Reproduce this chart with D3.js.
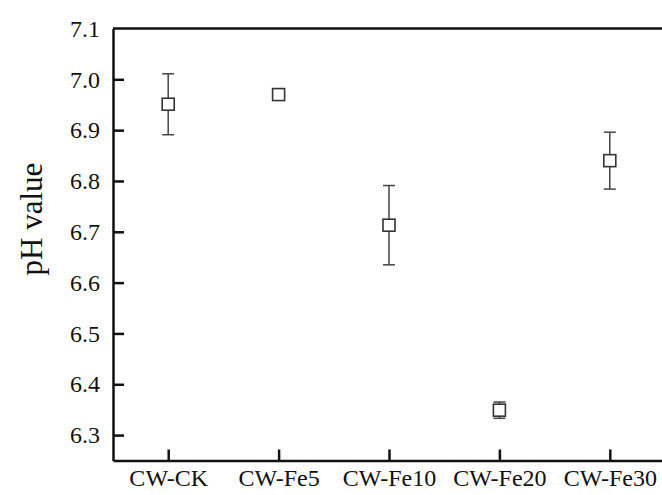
<!DOCTYPE html>
<html>
<head>
<meta charset="utf-8">
<script src="https://cdn.jsdelivr.net/npm/d3@7"></script>
<style>
	body { margin: 0; background: #fff; }
	svg { display: block; }
</style>
</head>
<body>
<svg id="chart" width="662" height="495"></svg>
<script>
// treatments and measured pH (mean, standard deviation)
var groups = ['CW-CK', 'CW-Fe5', 'CW-Fe10', 'CW-Fe20', 'CW-Fe30'];
var phMean = [6.951, 6.970, 6.713, 6.349, 6.840];
var phErr  = [0.060, 0.005, 0.078, 0.016, 0.056];
var yTicks = [6.3, 6.4, 6.5, 6.6, 6.7, 6.8, 6.9, 7.0, 7.1];

var width = 662, height = 495;
var margin = {top: 28.5, right: -3, bottom: 34.5, left: 113};
var serif = "'Liberation Serif', 'Times New Roman', Times, serif";

var svg = d3.select('#chart');

var x = d3.scalePoint()
	.domain(groups)
	.range([margin.left, width - margin.right])
	.padding(0.5);

var y = d3.scaleLinear()
	.domain([6.25, 7.1])
	.range([height - margin.bottom, margin.top]);

var data = groups.map(function(g, i){
	return {g: g, m: phMean[i], e: phErr[i]};
});

function styleAxis(g){
	g.selectAll('text')
		.style('font-family', serif)
		.style('font-size', '24px')
		.style('fill', '#111');
	g.selectAll('path, line').attr('stroke', '#111').attr('stroke-width', 2.5);
}

// top frame line
svg.append('line')
	.attr('x1', margin.left).attr('x2', width)
	.attr('y1', y(7.1)).attr('y2', y(7.1))
	.attr('stroke', '#111').attr('stroke-width', 2.5);

svg.append('g')
	.attr('transform', 'translate(' + margin.left + ',0)')
	.call(d3.axisLeft(y).tickValues(yTicks).tickFormat(d3.format('.1f')).tickSizeInner(-11).tickSizeOuter(0).tickPadding(13))
	.call(styleAxis)
	.selectAll('.tick line').filter(function(d){ return d === 7.1; }).remove();

svg.append('g')
	.attr('transform', 'translate(0,' + y(6.25) + ')')
	.call(d3.axisBottom(x).tickSizeInner(-11).tickSizeOuter(0).tickPadding(8))
	.call(styleAxis);

svg.append('text')
	.attr('transform', 'translate(42,219) rotate(-90)')
	.attr('text-anchor', 'middle')
	.style('font-family', serif)
	.style('font-size', '31px')
	.style('fill', '#111')
	.text('pH value');

var pts = svg.append('g').attr('class', 'points');

var bars = pts.selectAll('g.err').data(data).enter().append('g')
	.attr('class', 'err')
	.attr('stroke', '#444')
	.attr('stroke-width', 1.5)
	.attr('fill', 'none');

bars.append('line')
	.attr('x1', function(d){ return x(d.g); })
	.attr('x2', function(d){ return x(d.g); })
	.attr('y1', function(d){ return y(d.m + d.e); })
	.attr('y2', function(d){ return y(d.m - d.e); });

[1, -1].forEach(function(s){
	bars.append('line')
		.attr('x1', function(d){ return x(d.g) - 6; })
		.attr('x2', function(d){ return x(d.g) + 6; })
		.attr('y1', function(d){ return y(d.m + s * d.e); })
		.attr('y2', function(d){ return y(d.m + s * d.e); });
});

pts.selectAll('rect').data(data).enter().append('rect')
	.attr('x', function(d){ return x(d.g) - 6; })
	.attr('y', function(d){ return y(d.m) - 6; })
	.attr('width', 12)
	.attr('height', 12)
	.attr('fill', '#fff')
	.attr('stroke', '#333')
	.attr('stroke-width', 1.6);
</script>
</body>
</html>
